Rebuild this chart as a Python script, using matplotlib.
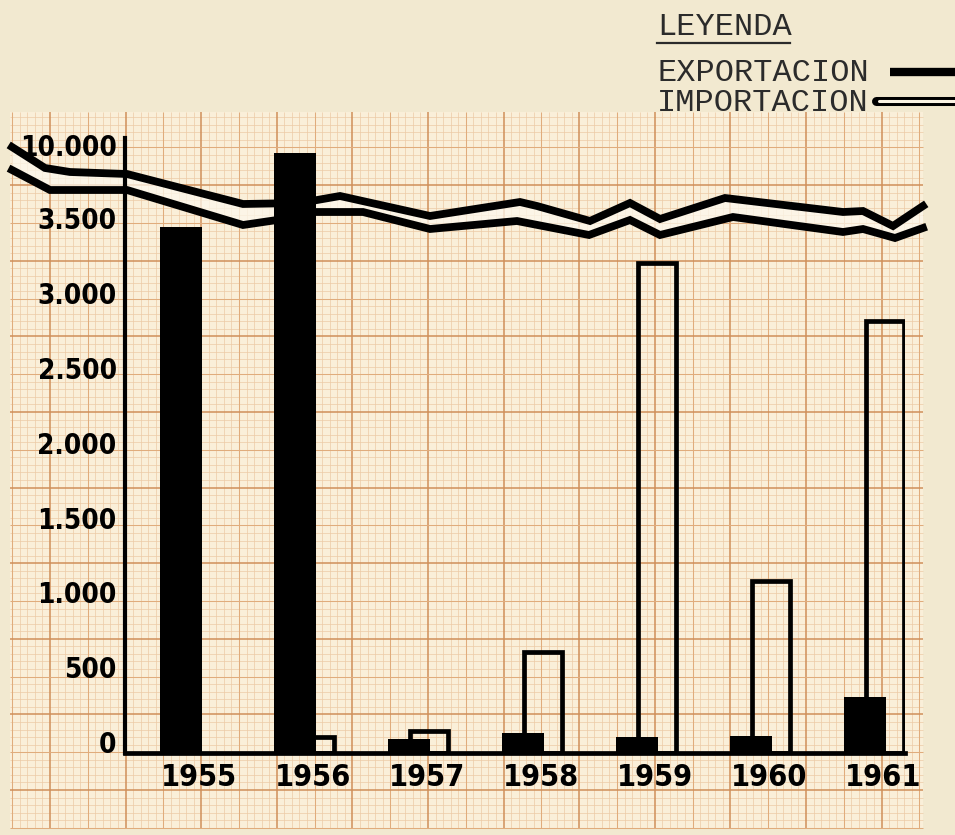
import numpy as np
import matplotlib
matplotlib.use("Agg")
import matplotlib.pyplot as plt
from matplotlib.patches import Rectangle, Polygon

# ---------------- data ----------------
years = ["1955", "1956", "1957", "1958", "1959", "1960", "1961"]
exportacion = [3440, 9300, 20, 60, 33, 40, 300]
importacion = [np.nan, 35, 75, 600, 3200, 1075, 2815]   # 1955: no import bar drawn
ytick_values = [0, 500, 1000, 1500, 2000, 2500, 3000, 3500, 10000]
ytick_labels = ["0", "500", "1.000", "1.500", "2.000", "2.500", "3.000", "3.500", "10.000"]
legend_title = "LEYENDA"
legend_labels = ["EXPORTACION", "IMPORTACION"]

# ---------------- style ----------------
W, H = 955, 835
PAGE = "#f2e9d0"
PAPER = "#faefd9"
MINOR = "#eccaa6"
MID = "#e0ac7c"
MAJOR = "#cf8f5a"
BREAK_AT = 3500
K = 490 / 6500.0          # compression of the broken part of the axis
FLOOR = -74               # axis floor (baseline sits a bit under the "0" label)

fig = plt.figure(figsize=(W / 100, H / 100), dpi=100, facecolor=PAGE)

# background "graph paper" layer in pixel coordinates
bg = fig.add_axes([0, 0, 1, 1], zorder=0)
bg.set_xlim(0, W)
bg.set_ylim(H, 0)
bg.axis("off")

px0, px1, py0, py1 = 10, 923, 112, 828
bg.add_patch(Rectangle((px0, py0), px1 - px0, py1 - py0, facecolor=PAPER, edgecolor="none"))
step = 75.6 / 10


def style(k):
    if k == 0:
        return 1.1, MAJOR
    if k == 5:
        return 0.75, MID
    return 0.5, MINOR


for x in np.arange(50 - 60 * step, px1 + 1, step):
    if x < px0:
        continue
    lw, c = style(int(round((x - 50) / step)) % 10)
    bg.plot([x, x], [py0, py1], color=c, lw=lw, solid_capstyle="butt", zorder=1 if c == MINOR else 2)
for y in np.arange(790 + 20 * step, py0 - 1, -step):
    if y > py1:
        continue
    lw, c = style(int(round((790 - y) / step)) % 10)
    bg.plot([px0, px1], [y, y], color=c, lw=lw, solid_capstyle="butt", zorder=1 if c == MINOR else 2)

# axis break (decorative zig-zag bands)
up = np.array([(12, 147), (45, 168), (70, 172), (127, 174), (243, 204), (300, 203), (340, 196),
               (430, 216), (520, 202), (537, 206), (590, 221), (630, 203), (660, 219), (725, 198),
               (843, 212), (863, 211), (893, 226), (923, 206)], float)
lo = np.array([(12, 170), (50, 190), (127, 190), (243, 225), (277, 220), (300, 212), (363, 212),
               (430, 229), (517, 221), (589, 235), (630, 220), (660, 235), (733, 217), (843, 232),
               (863, 229), (895, 238), (923, 228)], float)
bg.add_patch(Polygon(np.vstack([up, lo[::-1]]), closed=True, facecolor="#fdf8ec",
                     edgecolor="none", alpha=0.75, zorder=3))
bg.plot(up[:, 0], up[:, 1], color="black", lw=5.6, solid_joinstyle="miter", zorder=4)
bg.plot(lo[:, 0], lo[:, 1], color="black", lw=5.6, solid_joinstyle="miter", zorder=4)

# legend (typewritten)
tw = dict(family="Liberation Mono", fontsize=23, color="#2b2b2b")
bg.text(657, 27, legend_title, ha="left", va="center", **tw)
bg.plot([657, 790], [43, 43], color="#2b2b2b", lw=1.6)
bg.text(657, 73, legend_labels[0], ha="left", va="center", **tw)
bg.text(657, 103, legend_labels[1], ha="left", va="center", **tw)
bg.plot([890, 955], [72, 72], color="black", lw=6, solid_capstyle="butt")
bg.plot([876, 955], [101, 101], color="black", lw=6.5, solid_capstyle="round")
bg.plot([879, 955], [101, 101], color="#fbf4e4", lw=2.2, solid_capstyle="round")

# ---------------- chart ----------------
left, right, top, bottom = 125, 905, 138, 753
ax = fig.add_axes([left / W, 1 - bottom / H, (right - left) / W, (bottom - top) / H], zorder=2)
ax.patch.set_alpha(0)


def fwd(v):
    v = np.asarray(v, float)
    return np.where(v <= BREAK_AT, v, BREAK_AT + (v - BREAK_AT) * K)


def inv(f):
    f = np.asarray(f, float)
    return np.where(f <= BREAK_AT, f, BREAK_AT + (f - BREAK_AT) / K)


ax.set_yscale("function", functions=(fwd, inv))
ax.set_ylim(FLOOR, float(inv(4037)))
ax.set_xlim(-0.491, 6.351)

x = np.arange(len(years))
exp = np.array(exportacion, float)
imp = np.array(importacion, float)
ax.bar(x + 0.175, imp - FLOOR, bottom=FLOOR, width=0.335, facecolor="none",
       edgecolor="black", linewidth=3.4, zorder=2)
ax.bar(x, exp - FLOOR, bottom=FLOOR, width=0.37, color="black", linewidth=0, zorder=3)

for s in ["top", "right"]:
    ax.spines[s].set_visible(False)
ax.spines["left"].set_linewidth(3.0)
ax.spines["bottom"].set_linewidth(3.4)

stencil = dict(family="DejaVu Sans", stretch="condensed", weight="bold")
ax.set_yticks(ytick_values)
ax.set_yticklabels(ytick_labels, fontsize=20, **stencil)
ax.set_xticks(x + 0.16)
ax.set_xticklabels(years, fontsize=22, **stencil)
ax.tick_params(axis="both", length=0)
ax.tick_params(axis="y", pad=6)
ax.tick_params(axis="x", pad=7)

fig.savefig("out.png", dpi=100, facecolor=PAGE)
